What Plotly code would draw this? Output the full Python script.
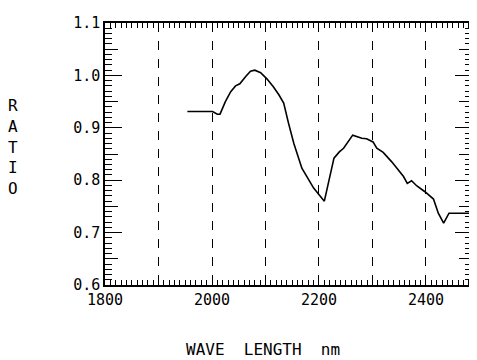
import plotly.graph_objects as go

# Data
wavelength = [1954, 2001, 2010, 2015, 2025, 2035, 2044, 2052, 2063, 2072, 2080, 2091,
              2103, 2115, 2125, 2134, 2143, 2153, 2168, 2190, 2210, 2221, 2228, 2238,
              2246, 2263, 2280, 2289, 2301, 2308, 2320, 2336, 2350, 2358, 2365, 2373,
              2383, 2398, 2414, 2423, 2433, 2443, 2484]
ratio = [0.931, 0.931, 0.926, 0.926, 0.950, 0.969, 0.980, 0.984, 0.998, 1.008, 1.010, 1.005,
         0.993, 0.978, 0.963, 0.947, 0.909, 0.870, 0.823, 0.785, 0.760, 0.807, 0.842, 0.854,
         0.861, 0.886, 0.880, 0.879, 0.873, 0.861, 0.853, 0.835, 0.816, 0.807, 0.794, 0.799,
         0.789, 0.778, 0.764, 0.737, 0.718, 0.737, 0.737]

x_tickvals = [1800, 1900, 2000, 2100, 2200, 2300, 2400]
x_ticktext = ["1800", "", "2000", "", "2200", "", "2400"]
y_tickvals = [0.6, 0.7, 0.8, 0.9, 1.0, 1.1]
y_ticktext = ["0.6", "0.7", "0.8", "0.9", "1.0", "1.1"]
y_mid_vals = [0.65, 0.75, 0.85, 0.95, 1.05]

XR = [1800, 2486]
YR = [0.6, 1.1]
FONT = "DejaVu Sans Mono"

# plot area size in pixels (used to size the tick rulers)
PW, PH = 367, 262

fig = go.Figure()
fig.add_trace(go.Scatter(x=wavelength, y=ratio, mode="lines",
                         line=dict(color="black", width=1.6), showlegend=False))

blank = dict(showgrid=False, zeroline=False, showline=False, showticklabels=False,
             ticks="", automargin=False)

layout = dict(
    width=469, height=352,  # page body adds an 8px margin
    margin=dict(l=97, r=5, t=15, b=75, autoexpand=False),
    paper_bgcolor="white", plot_bgcolor="rgba(0,0,0,0)",
    font=dict(family=FONT, color="black", size=15),
    xaxis=dict(range=XR, autorange=False, tickmode="array", tickvals=x_tickvals,
               ticktext=x_ticktext, ticks="", domain=[0, 1],
               showline=True, linecolor="black", linewidth=1.5, mirror=True,
               showgrid=True, gridcolor="black", griddash="dash", gridwidth=1.3,
               zeroline=False, automargin=False, tickfont=dict(size=15, family=FONT)),
    yaxis=dict(range=YR, autorange=False, tickmode="array", tickvals=y_tickvals,
               ticktext=y_ticktext, ticks="", domain=[0, 1],
               showline=True, linecolor="black", linewidth=1.5, mirror=True,
               showgrid=False, zeroline=False, automargin=False,
               tickfont=dict(size=15, family=FONT)),
)

n = 2


def x_ruler(ydomain, **tick):
    """Strip subplot whose vertical gridlines act as x tick marks."""
    global n
    xa, ya = f"xaxis{n}", f"yaxis{n}"
    layout[xa] = dict(blank, range=XR, autorange=False, anchor=f"y{n}", domain=[0, 1],
                      showgrid=True, gridcolor="black", gridwidth=1.2, **tick)
    layout[ya] = dict(blank, range=[0, 1], autorange=False, anchor=f"x{n}", domain=ydomain)
    fig.add_trace(go.Scatter(x=[XR[0]], y=[0], xaxis=f"x{n}", yaxis=f"y{n}", mode="markers",
                             marker=dict(opacity=0), showlegend=False, hoverinfo="skip"))
    n += 1


def y_ruler(xdomain, **tick):
    """Strip subplot whose horizontal gridlines act as y tick marks."""
    global n
    xa, ya = f"xaxis{n}", f"yaxis{n}"
    layout[ya] = dict(blank, range=YR, autorange=False, anchor=f"x{n}", domain=[0, 1],
                      showgrid=True, gridcolor="black", gridwidth=1.2, **tick)
    layout[xa] = dict(blank, range=[0, 1], autorange=False, anchor=f"y{n}", domain=xdomain)
    fig.add_trace(go.Scatter(x=[0], y=[YR[0]], xaxis=f"x{n}", yaxis=f"y{n}", mode="markers",
                             marker=dict(opacity=0), showlegend=False, hoverinfo="skip"))
    n += 1


x_minor = dict(tickmode="linear", tick0=XR[0], dtick=10)
y_minor = dict(tickmode="linear", tick0=YR[0], dtick=0.01)
y_mid = dict(tickmode="array", tickvals=y_mid_vals)
y_major = dict(tickmode="array", tickvals=y_tickvals)
x_major = dict(tickmode="array", tickvals=x_tickvals)

# bottom and top rulers (10 nm minor ticks, longer 100 nm ticks)
x_ruler([0, 5 / PH], **x_minor)
x_ruler([0, 9 / PH], **x_major)
x_ruler([1 - 5 / PH, 1], **x_minor)
x_ruler([1 - 9 / PH, 1], **x_major)
# left and right rulers (0.01 minor, 0.05 medium, 0.1 major)
y_ruler([0, 7 / PW], **y_minor)
y_ruler([0, 13 / PW], **y_mid)
y_ruler([0, 17 / PW], **y_major)
y_ruler([1 - 7 / PW, 1], **y_minor)
y_ruler([1 - 13 / PW, 1], **y_mid)
y_ruler([1 - 17 / PW, 1], **y_major)

fig.update_layout(**layout)

fig.add_annotation(text="R<br>A<br>T<br>I<br>O", xref="paper", yref="paper",
                   x=-0.25, y=0.527, xanchor="center", yanchor="middle",
                   showarrow=False, align="center",
                   font=dict(size=16, family=FONT))
fig.add_annotation(text="WAVE  LENGTH  nm", xref="paper", yref="paper",
                   x=0.43, y=-0.248, xanchor="center", yanchor="middle", showarrow=False,
                   font=dict(size=16, family=FONT))

fig.write_html("out.html")
